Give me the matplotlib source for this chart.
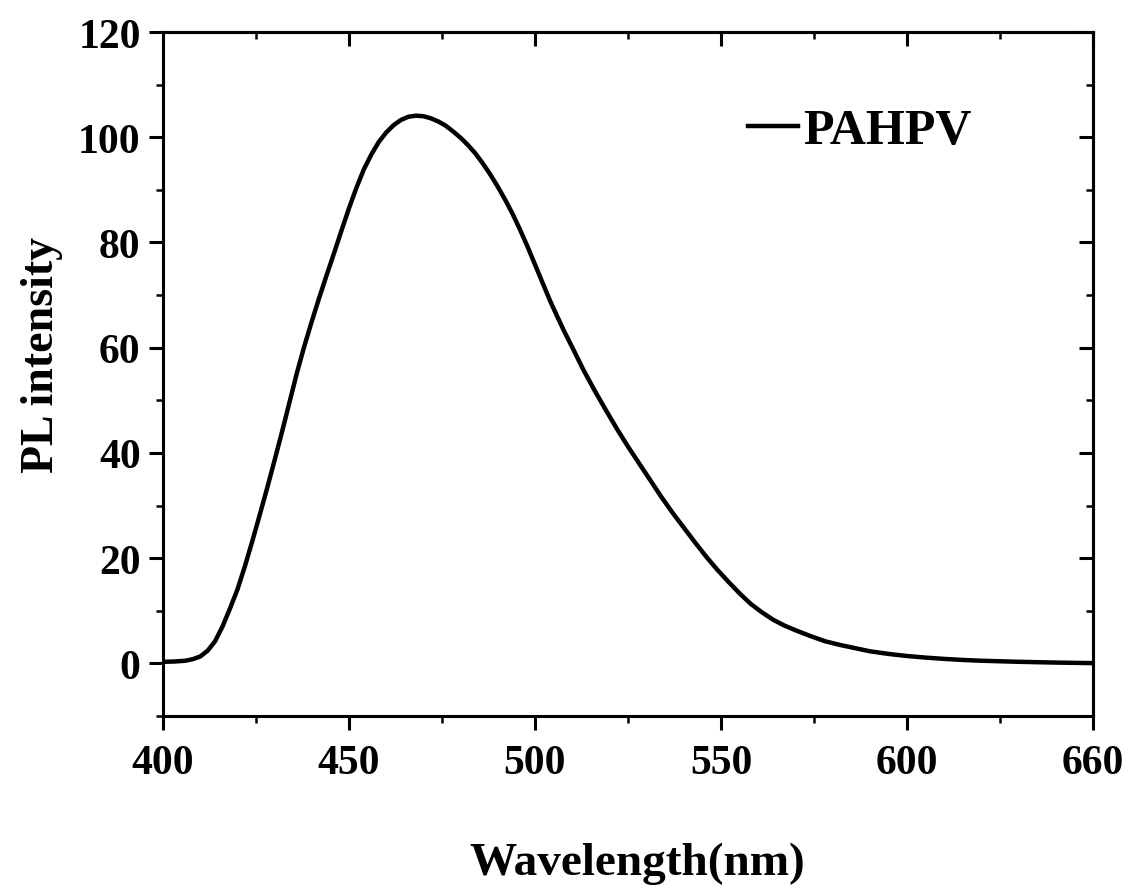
import numpy as np
import matplotlib
matplotlib.use("Agg")
import matplotlib.pyplot as plt
from matplotlib.ticker import FixedLocator

plt.rcParams['font.family'] = ['Liberation Serif', 'DejaVu Serif']
plt.rcParams['font.weight'] = 'bold'

# PL spectrum
wavelength = [400, 403, 406, 408, 410, 412, 414, 416, 418, 420, 422, 424, 426,
              428, 430, 432, 434, 436, 438, 440, 442, 444, 446, 448, 450, 452,
              454, 456, 458, 460, 462, 464, 466, 468, 470, 472, 474, 476, 478,
              480, 482, 484, 486, 488, 490, 492, 494, 496, 498, 500, 502, 504,
              506, 508, 510, 513, 516, 519, 522, 525, 528, 531, 534, 537, 540,
              543, 546, 549, 552, 555, 558, 561, 564, 567, 570, 574, 578, 582,
              586, 590, 595, 600, 605, 610, 615, 620, 630, 640, 650]
intensity = [0.3, 0.35, 0.5, 0.8, 1.3, 2.4, 4.2, 7.0, 10.4, 14.0, 18.4, 23.2, 28.2,
             33.3, 38.6, 44.0, 49.6, 55.2, 60.3, 65.0, 69.5, 73.8, 78.0, 82.3, 86.5, 90.4,
             93.9, 96.7, 99.1, 100.9, 102.3, 103.3, 103.9, 104.1, 104.0, 103.6, 103.0, 102.2, 101.1,
             99.9, 98.5, 96.9, 95.0, 92.9, 90.6, 88.1, 85.4, 82.4, 79.2, 75.8, 72.4, 69.0,
             65.9, 62.9, 60.1, 55.8, 51.9, 48.2, 44.6, 41.2, 38.0, 34.8, 31.6, 28.6, 25.8,
             23.0, 20.3, 17.8, 15.5, 13.3, 11.3, 9.7, 8.3, 7.2, 6.3, 5.2, 4.2, 3.5,
             2.9, 2.3, 1.8, 1.4, 1.1, 0.85, 0.65, 0.5, 0.3, 0.15, 0.05]

xticks = [400, 450, 500, 550, 600, 650]
xticklabels = ["400", "450", "500", "550", "600", "660"]
xminor = [425, 475, 525, 575, 625]
yticks = [0, 20, 40, 60, 80, 100, 120]
yminor = [-10, 10, 30, 50, 70, 90, 110]

fig = plt.figure(figsize=(11.46, 8.95), dpi=100)
ax = fig.add_axes([0.1422, 0.1989, 0.8116, 0.7642])

ax.plot(wavelength, intensity, color='black', lw=3.2, label='PAHPV')
ax.set_xlim(400, 650)
ax.set_ylim(-10, 120)

for s in ax.spines.values():
    s.set_linewidth(2.2)

ax.xaxis.set_major_locator(FixedLocator(xticks))
ax.xaxis.set_minor_locator(FixedLocator(xminor))
ax.set_xticklabels(xticklabels)
ax.yaxis.set_major_locator(FixedLocator(yticks))
ax.yaxis.set_minor_locator(FixedLocator(yminor))

ax.tick_params(which='major', direction='out', length=10, width=2.2,
               labelsize=30, pad=6)
ax.tick_params(which='minor', direction='out', length=5, width=1.8)
ax.tick_params(axis='x', which='major', pad=10)

# top and right ticks point inward
top = ax.secondary_xaxis('top')
top.xaxis.set_major_locator(FixedLocator(xticks))
top.xaxis.set_minor_locator(FixedLocator(xminor))
top.tick_params(which='major', direction='in', length=10, width=2.2, labeltop=False)
top.tick_params(which='minor', direction='in', length=5, width=1.8)
right = ax.secondary_yaxis('right')
right.yaxis.set_major_locator(FixedLocator(yticks))
right.yaxis.set_minor_locator(FixedLocator(yminor))
right.tick_params(which='major', direction='in', length=10, width=2.2, labelright=False)
right.tick_params(which='minor', direction='in', length=5, width=1.8)
top.spines['top'].set_linewidth(2.2)
right.spines['right'].set_linewidth(2.2)

ax.set_xlabel('Wavelength(nm)', fontsize=34, fontweight='bold')
ax.xaxis.set_label_coords(0.51, -0.183)
ax.set_ylabel('PL intensity', fontsize=33, fontweight='bold')
ax.yaxis.set_label_coords(-0.108, 0.53)

ax.legend(loc='center left', bbox_to_anchor=(0.629, 0.855), frameon=False,
          fontsize=36, handlelength=1.0, handletextpad=0.1,
          borderpad=0, borderaxespad=0)

fig.savefig('out.png', dpi=100)
